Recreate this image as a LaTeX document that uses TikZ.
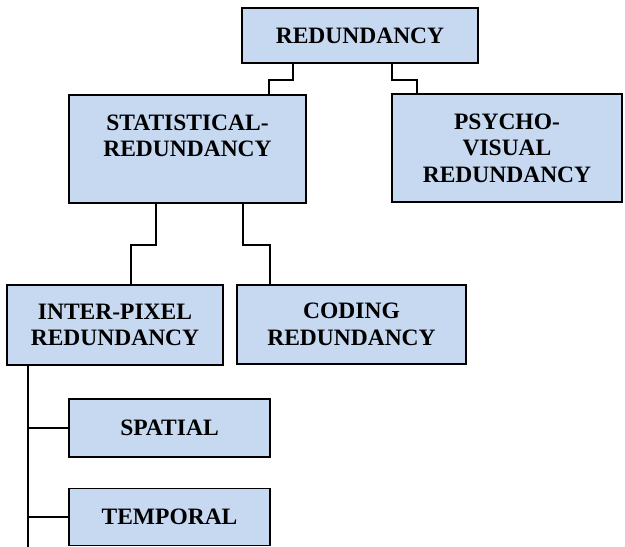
\documentclass[tikz,border=0pt]{standalone}
\usepackage{fontspec}
\setmainfont{Liberation Serif}
\usepackage{tikz}
\usetikzlibrary{positioning}
\definecolor{boxblue}{HTML}{C6D9F1}

\begin{document}
\begin{tikzpicture}
			[x=1pt, y=-1pt, font=\bfseries\fontsize{23.5}{26.5}\selectfont,
			block/.style	= {draw, rectangle, line width=1.6pt, fill=boxblue, align=center, inner sep=0pt},
			link/.style		= {draw, line width=1.5pt}]
			
			\useasboundingbox (0,0) rectangle (625,547);
			
			\node [block, minimum width=236pt, minimum height=55pt]		at (360,35.5)	(red)		{REDUNDANCY};
			\node [block, minimum width=237pt, minimum height=108pt]	at (187.5,149)	(stat)		{STATISTICAL-\\REDUNDANCY\\\mbox{}};
			\node [block, minimum width=230pt, minimum height=108pt]	at (507,148)	(psy)		{PSYCHO-\\VISUAL\\REDUNDANCY};
			\node [block, minimum width=216pt, minimum height=80pt]		at (115,325)	(inter)		{INTER-PIXEL\\REDUNDANCY};
			\node [block, minimum width=229pt, minimum height=79pt]		at (351.5,324.5) (coding)	{CODING\\REDUNDANCY};
			\node [block, minimum width=201pt, minimum height=58pt]		at (169.5,428)	(spatial)	{SPATIAL};
			\node [block, minimum width=201pt, minimum height=57pt]		at (169.5,517)	(temporal)	{TEMPORAL};
			\coordinate (tail) at (28,547);
			
			\draw [link] ([xshift=-67pt]red.south) -- ++(0,16) -| ([xshift=81.5pt]stat.north);
			\draw [link] ([xshift=32pt]red.south) -- ++(0,16) -| ([xshift=-90pt]psy.north);
			\draw [link] ([xshift=-31.5pt]stat.south) -- ++(0,41) -| ([xshift=16pt]inter.north);
			\draw [link] ([xshift=55.5pt]stat.south) -- ++(0,41) -| ([xshift=-81.5pt]coding.north);
			\draw [link] ([xshift=-87pt]inter.south) -- (tail);
			\draw [link] (spatial.west) -- (spatial.west -| tail);
			\draw [link] (temporal.west) -- (temporal.west -| tail);
			\end{tikzpicture}
\end{document}
